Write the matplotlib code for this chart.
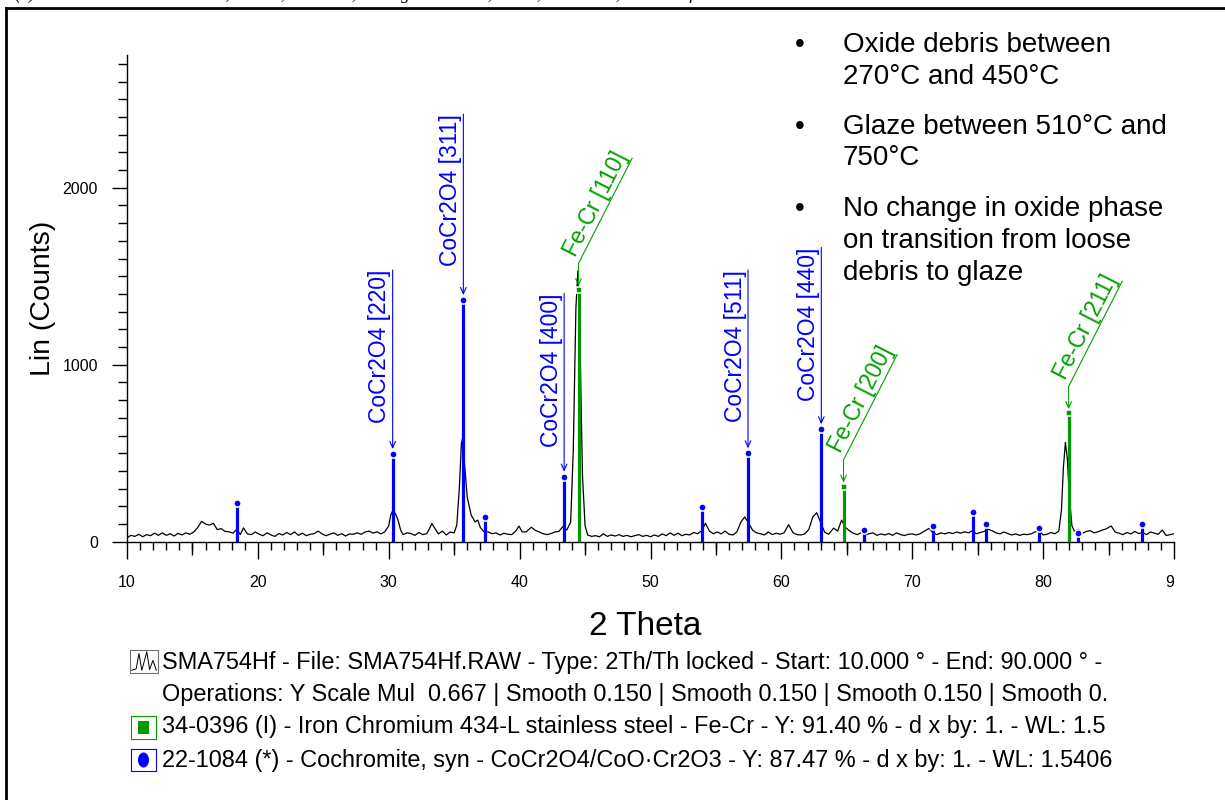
import matplotlib
matplotlib.use("Agg")
import matplotlib.pyplot as plt
import matplotlib.transforms as mtransforms
from matplotlib.lines import Line2D
from matplotlib.patches import Rectangle, Ellipse
from matplotlib.ticker import MultipleLocator, NullLocator
import numpy as np

plt.rcParams['font.family'] = ['Liberation Sans', 'DejaVu Sans']

# ---------------- measured scan (2-theta, counts) ----------------
two_theta = [
    10.0, 10.3, 10.6, 10.9, 11.2, 11.5, 11.8, 12.1, 12.4, 12.7,
    13.0, 13.3, 13.6, 13.9, 14.2, 14.5, 14.8, 15.1, 15.4, 15.7,
    16.0, 16.3, 16.6, 16.9, 17.2, 17.5, 17.8, 18.1, 18.4, 18.65,
    18.9, 19.2, 19.5, 19.8, 20.1, 20.4, 20.7, 21.0, 21.3, 21.6,
    21.9, 22.2, 22.5, 22.8, 23.1, 23.4, 23.7, 24.0, 24.3, 24.6,
    24.9, 25.2, 25.5, 25.8, 26.1, 26.4, 26.7, 27.0, 27.3, 27.6,
    27.9, 28.2, 28.5, 28.8, 29.1, 29.4, 29.7, 30.0, 30.15, 30.3,
    30.5, 30.7, 30.9, 31.1, 31.4, 31.7, 32.0, 32.3, 32.6, 32.9,
    33.1, 33.3, 33.5, 33.8, 34.1, 34.4, 34.7, 35.0, 35.2, 35.4,
    35.55, 35.65, 35.8, 36.0, 36.3, 36.6, 36.8, 37.0, 37.3, 37.6,
    37.9, 38.2, 38.5, 38.8, 39.1, 39.4, 39.7, 39.95, 40.2, 40.5,
    40.9, 41.2, 41.5, 41.8, 42.1, 42.4, 42.7, 43.0, 43.3, 43.6,
    43.9, 44.1, 44.3, 44.45, 44.6, 44.8, 45.0, 45.2, 45.5, 45.8,
    46.1, 46.4, 46.7, 47.0, 47.3, 47.6, 47.9, 48.2, 48.5, 48.8,
    49.1, 49.4, 49.7, 50.0, 50.3, 50.6, 50.9, 51.2, 51.5, 51.8,
    52.1, 52.4, 52.7, 53.0, 53.3, 53.6, 53.9, 54.2, 54.5, 54.8,
    55.1, 55.4, 55.7, 56.0, 56.3, 56.6, 56.9, 57.2, 57.5, 57.8,
    58.1, 58.4, 58.7, 59.0, 59.3, 59.6, 59.9, 60.2, 60.55, 60.9,
    61.2, 61.5, 61.8, 62.1, 62.4, 62.7, 63.0, 63.3, 63.6, 64.0,
    64.3, 64.6, 64.9, 65.2, 65.5, 65.8, 66.1, 66.4, 66.7, 67.0,
    67.3, 67.6, 67.9, 68.2, 68.5, 68.8, 69.1, 69.4, 69.7, 70.0,
    70.3, 70.6, 70.9, 71.3, 71.6, 71.9, 72.2, 72.5, 72.8, 73.1,
    73.4, 73.7, 74.0, 74.3, 74.6, 74.9, 75.2, 75.5, 75.8, 76.1,
    76.4, 76.7, 77.0, 77.3, 77.6, 77.9, 78.2, 78.5, 78.8, 79.1,
    79.4, 79.7, 80.0, 80.3, 80.6, 80.9, 81.2, 81.4, 81.55, 81.7,
    81.85, 82.0, 82.2, 82.4, 82.7, 83.0, 83.3, 83.6, 83.9, 84.2,
    84.5, 84.8, 85.2, 85.5, 85.8, 86.1, 86.4, 86.7, 87.0, 87.3,
    87.6, 87.9, 88.2, 88.5, 88.8, 89.1, 89.4, 89.7, 90.0,
]
counts = [
    22, 36, 30, 42, 28, 40, 34, 48, 36, 50,
    36, 45, 32, 47, 38, 50, 42, 55, 80, 115,
    100, 94, 104, 68, 74, 58, 56, 48, 72, 40,
    78, 44, 40, 55, 42, 34, 50, 38, 30, 46,
    38, 52, 40, 55, 36, 48, 34, 42, 45, 60,
    44, 34, 42, 50, 36, 45, 32, 44, 42, 50,
    42, 55, 60, 48, 56, 44, 56, 90, 150, 175,
    160, 125, 68, 40, 50, 46, 36, 52, 40, 45,
    72, 103, 78, 44, 60, 38, 55, 50, 95, 310,
    555, 588, 430, 250, 150, 112, 122, 80, 55, 55,
    45, 50, 38, 48, 42, 40, 60, 88, 55, 56,
    82, 64, 55, 45, 40, 46, 55, 58, 85, 66,
    110, 520, 1320, 1530, 1180, 380, 90, 38, 30, 34,
    28, 45, 30, 38, 32, 40, 30, 36, 28, 34,
    40, 30, 36, 28, 38, 30, 44, 34, 50, 36,
    48, 34, 42, 38, 52, 45, 62, 104, 60, 45,
    55, 44, 60, 42, 38, 55, 110, 140, 105, 65,
    50, 45, 38, 55, 40, 48, 42, 50, 96, 50,
    40, 38, 45, 70, 140, 164, 110, 55, 42, 77,
    60, 122, 80, 62, 48, 40, 52, 38, 45, 50,
    36, 44, 38, 46, 36, 50, 40, 35, 42, 44,
    38, 45, 58, 76, 48, 40, 50, 44, 52, 46,
    55, 48, 56, 50, 62, 45, 52, 58, 70, 62,
    50, 44, 55, 46, 38, 44, 36, 42, 40, 45,
    56, 62, 38, 42, 52, 45, 60, 180, 420, 561,
    470, 260, 90, 58, 70, 48, 58, 62, 50, 56,
    65, 72, 89, 55, 48, 40, 52, 44, 58, 46,
    52, 40, 55, 48, 42, 66, 35, 40, 45,
]

# reference pattern 22-1084 (cochromite) stick positions / heights
cocr_pos = [18.4, 30.3, 35.7, 37.35, 43.4, 53.9, 57.45, 63.05, 66.3,
            71.55, 74.65, 75.6, 79.65, 82.65, 87.55]
cocr_int = [220, 495, 1365, 140, 367, 194, 499, 635, 64,
            89, 168, 102, 75, 51, 102]
cocr_hkl = ["", "[220]", "[311]", "", "[400]", "", "[511]", "[440]", "",
            "", "", "", "", "", ""]

# reference pattern 34-0396 (Fe-Cr) stick positions / heights
fecr_pos = [44.5, 64.75, 81.95]
fecr_int = [1420, 310, 725]
fecr_hkl = ["[110]", "[200]", "[211]"]

# tick labels
xtick_vals = [10, 20, 30, 40, 50, 60, 70, 80, 90]
xtick_text = ["10", "20", "30", "40", "50", "60", "70", "80", "90"]
ytick_vals = [0, 1000, 2000]
ytick_text = ["0", "1000", "2000"]

legend_lines = [
    "SMA754Hf - File: SMA754Hf.RAW - Type: 2Th/Th locked - Start: 10.000 \u00b0 - End: 90.000 \u00b0 -",
    "Operations: Y Scale Mul  0.667 | Smooth 0.150 | Smooth 0.150 | Smooth 0.150 | Smooth 0.",
    "34-0396 (I) - Iron Chromium 434-L stainless steel - Fe-Cr - Y: 91.40 % - d x by: 1. - WL: 1.5",
    "22-1084 (*) - Cochromite, syn - CoCr2O4/CoO\u00b7Cr2O3 - Y: 87.47 % - d x by: 1. - WL: 1.5406",
]

notes = [
    ["Oxide debris between", "270\u00b0C and 450\u00b0C"],
    ["Glaze between 510\u00b0C and", "750\u00b0C"],
    ["No change in oxide phase", "on transition from loose", "debris to glaze"],
]

caption = ("(c) Nimonic 80A vs. Stellite 6, 750\u00b0C, load 7 N, sliding distance "
           "4,522 m, 0.905 m/s, worn surface")

# ---------------- layout ----------------
# label tops for the cochromite annotations (counts)
cocr_label_top = {1: 1535, 2: 2416, 4: 1403, 6: 1535, 7: 1663}

BLUE = "#0000ff"
GREEN = "#00a000"
W, H = 1225, 800
DPI = 100

fig = plt.figure(figsize=(W / DPI, H / DPI), dpi=DPI)
ax_left, ax_right, ax_top, ax_bot = 127, 1174, 55, 541.7
ax = fig.add_axes([ax_left / W, 1 - ax_bot / H,
                   (ax_right - ax_left) / W, (ax_bot - ax_top) / H])
ax.set_xlim(10, 90)
ax.set_ylim(0, 2750)

for side in ("top", "right"):
    ax.spines[side].set_visible(False)
for side in ("left", "bottom"):
    ax.spines[side].set_linewidth(1.0)

ax.set_xticks(xtick_vals)
ax.set_xticklabels(xtick_text)
ax.xaxis.set_minor_locator(MultipleLocator(1))
ax.set_yticks(ytick_vals)
ax.set_yticklabels(ytick_text)
ax.yaxis.set_minor_locator(MultipleLocator(100))
ax.tick_params(axis="x", which="major", direction="out", length=12.2, width=1.0,
               labelsize=11.5, pad=12)
ax.tick_params(axis="x", which="minor", direction="out", length=5.8, width=1.0)
ax.tick_params(axis="y", which="major", direction="out", length=10.8, width=1.0,
               labelsize=11.5, pad=10)
ax.tick_params(axis="y", which="minor", direction="out", length=6.5, width=1.0)

# intermediate ticks every 5 degrees
sec = ax.secondary_xaxis("bottom")
sec.set_xticks([15, 25, 35, 45, 55, 65, 75, 85])
sec.xaxis.set_minor_locator(NullLocator())
sec.tick_params(axis="x", direction="out", length=9.4, width=1.0, labelbottom=False)
sec.spines["bottom"].set_visible(False)

# the last x tick label is cut at the end of the axis
clip = mtransforms.TransformedBbox(mtransforms.Bbox([[-0.5, -1.0], [1.0, 0.5]]),
                                   ax.transAxes)
last_label = ax.xaxis.get_major_ticks()[-1].label1
last_label.set_clip_on(True)
last_label.set_clip_box(clip)

ax.set_xlabel("2 Theta", fontsize=24)
ax.xaxis.set_label_coords((645 - ax_left) / (ax_right - ax_left),
                          -(611 - ax_bot) / (ax_bot - ax_top))
ax.set_ylabel("Lin (Counts)", fontsize=20.5)
ax.yaxis.set_label_coords(-(ax_left - 56) / (ax_right - ax_left), 0.5)

# measured scan
ax.plot(two_theta, counts, color="black", lw=0.9, zorder=3)

# stick patterns
ax.vlines(cocr_pos, 0, cocr_int, color=BLUE, lw=2.3, zorder=4)
ax.plot(cocr_pos, cocr_int, "o", ms=5.2, mfc=BLUE, mec="white", mew=1.1,
        zorder=5, clip_on=False)
ax.vlines(fecr_pos, 0, fecr_int, color="#009a00", lw=2.3, zorder=4)
ax.plot(fecr_pos, fecr_int, "s", ms=4.0, mfc="#009a00", mec="white", mew=1.1,
        zorder=5, clip_on=False)

# cochromite annotations: vertical text with a leader down to the stick
for i, top in cocr_label_top.items():
    x, h = cocr_pos[i], cocr_int[i]
    ax.annotate("", xy=(x, h), xytext=(x, top), xycoords="data",
                textcoords="data",
                arrowprops=dict(arrowstyle="->,head_length=0.45,head_width=0.2",
                                color=BLUE, lw=0.8, shrinkA=0, shrinkB=3.6),
                zorder=6)
    tr = mtransforms.offset_copy(ax.transData, fig=fig, x=-1.5, y=0, units="dots")
    ax.text(x, top, "CoCr2O4 " + cocr_hkl[i], transform=tr, rotation=90,
            rotation_mode="anchor", ha="right", va="bottom", color=BLUE,
            fontsize=16.5, zorder=6)

# Fe-Cr annotations: slanted underlined text with a kinked leader
angle = 63.0
ux, uy = np.cos(np.radians(angle)), np.sin(np.radians(angle))
knee_rise = 27.0    # pixels above the stick top
line_len = 118.0    # pixels along the text direction
text_shift = 4.0    # pixels the text starts past the knee
ident = mtransforms.IdentityTransform()
for x, h, hkl in zip(fecr_pos, fecr_int, fecr_hkl):
    ax.annotate("", xy=(x, h), xytext=(0, knee_rise * 72 / DPI),
                xycoords="data", textcoords="offset points",
                arrowprops=dict(arrowstyle="->,head_length=0.45,head_width=0.2",
                                color=GREEN, lw=0.8, shrinkA=0, shrinkB=3.0),
                zorder=6)
    bx, by = ax.transData.transform((x, h))
    kx, ky = bx, by + knee_rise
    fig.add_artist(Line2D([kx, kx + line_len * ux], [ky, ky + line_len * uy],
                          transform=ident, color=GREEN, lw=0.8))
    gap = 0.5
    fig.text(kx + text_shift * ux - gap * uy, ky + text_shift * uy + gap * ux,
             "Fe-Cr " + hkl, transform=ident,
             rotation=angle, rotation_mode="anchor", ha="left", va="bottom",
             color=GREEN, fontsize=16.5)

# bullet notes
note_rows = [[45, 77], [127, 158], [209, 241, 273]]
for block, rows in zip(notes, note_rows):
    fig.text(800 / W, 1 - rows[0] / H, "\u2022", fontsize=20, ha="center",
             va="center", color="black")
    for line, yy in zip(block, rows):
        fig.text(843 / W, 1 - yy / H, line, fontsize=20, ha="left", va="center",
                 color="black")

# pattern legend below the axis
legend_rows = [662, 694, 727, 760]
for line, yy in zip(legend_lines, legend_rows):
    fig.text(162 / W, 1 - yy / H, line, fontsize=16.9, ha="left", va="center",
             color="black")


def fig_box(x0, y0, x1, y1):
    return (x0 / W, 1 - y1 / H), (x1 - x0) / W, (y1 - y0) / H


xy, w, hgt = fig_box(130, 650, 158, 673)
fig.add_artist(Rectangle(xy, w, hgt, transform=fig.transFigure, fill=False,
                         ec="#707070", lw=0.8))
glyph_x = [0.06, 0.22, 0.32, 0.42, 0.52, 0.60, 0.70, 0.82, 0.94]
glyph_y = [0.12, 0.18, 0.85, 0.12, 0.55, 0.92, 0.15, 0.55, 0.12]
fig.add_artist(Line2D([(130 + gx * 28) / W for gx in glyph_x],
                      [1 - (673 - gy * 23) / H for gy in glyph_y],
                      transform=fig.transFigure, color="black", lw=0.7))

xy, w, hgt = fig_box(131, 716, 156, 739)
fig.add_artist(Rectangle(xy, w, hgt, transform=fig.transFigure, fill=False,
                         ec=GREEN, lw=0.8))
xy, w, hgt = fig_box(138, 721, 149, 734)
fig.add_artist(Rectangle(xy, w, hgt, transform=fig.transFigure, fc="#009a00",
                         ec="none"))

xy, w, hgt = fig_box(131, 749, 156, 771)
fig.add_artist(Rectangle(xy, w, hgt, transform=fig.transFigure, fill=False,
                         ec=BLUE, lw=0.8))
fig.add_artist(Ellipse((143.5 / W, 1 - 760 / H), 11 / W, 15 / H,
                       transform=fig.transFigure, fc=BLUE, ec="none"))

# frame around the figure and the clipped caption above it
fig.add_artist(Line2D([6 / W, 6 / W], [0, 1 - 8 / H], transform=fig.transFigure,
                      color="black", lw=2.0))
fig.add_artist(Line2D([6 / W, 1], [1 - 8 / H, 1 - 8 / H],
                      transform=fig.transFigure, color="black", lw=2.0))
fig.text(15 / W, 1 + 1.0 / H, caption, fontsize=13, family="Liberation Serif",
         style="italic", ha="left", va="baseline", color="black")

fig.savefig("out.png", dpi=DPI)
